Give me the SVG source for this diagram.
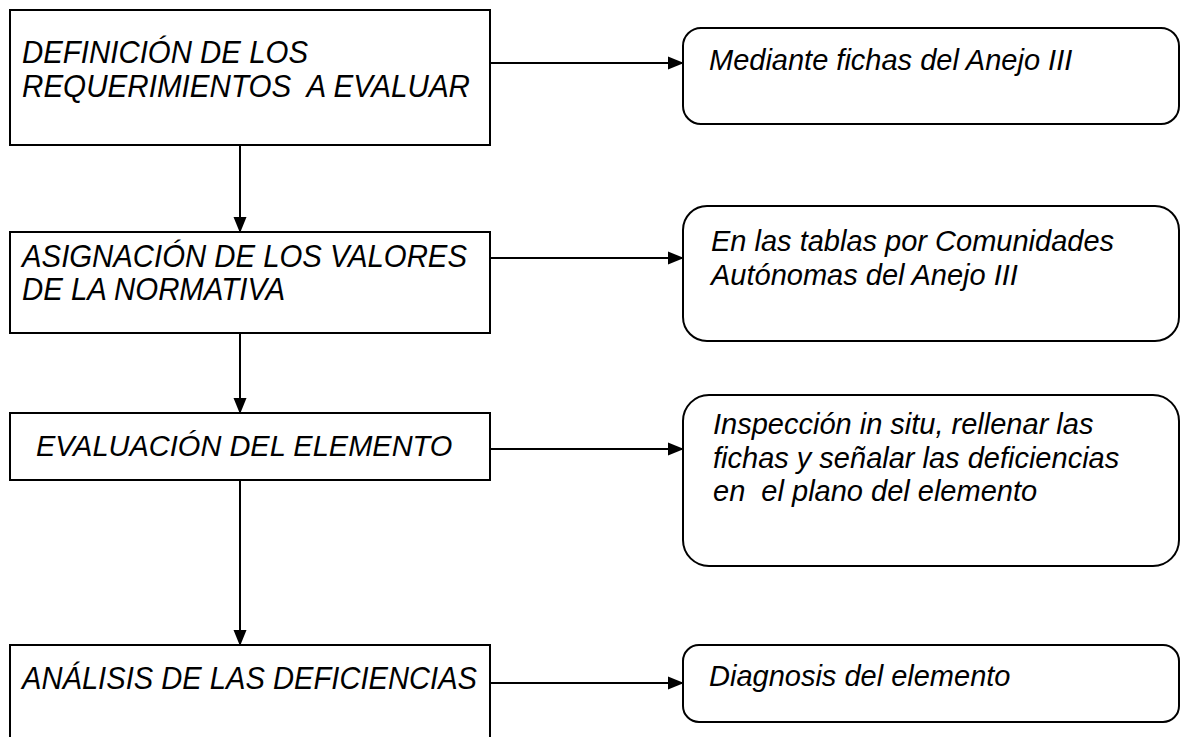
<svg xmlns="http://www.w3.org/2000/svg" width="1181" height="737" viewBox="0 0 1181 737">
<style>
.box{fill:#fff;stroke:#000;stroke-width:2}
.rbox{fill:#fff;stroke:#000;stroke-width:2}
.t{font-family:"Liberation Sans",Arial,sans-serif;font-style:italic;font-size:29px;fill:#000}
.tc{font-family:"Liberation Sans",Arial,sans-serif;font-style:italic;font-size:32px;fill:#000}
.c{stroke:#000;stroke-width:2;fill:none;marker-end:url(#ah)}
</style>
<defs>
<marker id="ah" markerWidth="16" markerHeight="14" refX="15" refY="7" orient="auto" markerUnits="userSpaceOnUse">
<path d="M0,0.5 L16,7 L0,13.5 Z" fill="#000"/>
</marker>
</defs>
<g id="connectors">
<line class="c" x1="490" y1="63" x2="683" y2="63"/>
<line class="c" x1="490" y1="258" x2="683" y2="258"/>
<line class="c" x1="490" y1="449" x2="683" y2="449"/>
<line class="c" x1="490" y1="683" x2="683" y2="683"/>
<line class="c" x1="240" y1="145" x2="240" y2="232"/>
<line class="c" x1="240" y1="333" x2="240" y2="413"/>
<line class="c" x1="240" y1="480" x2="240" y2="645"/>
</g>
<g id="n1">
<rect class="box" x="10" y="10" width="480" height="135"/>
<text class="tc" x="22" y="63" textLength="286" lengthAdjust="spacingAndGlyphs">DEFINICIÓN DE LOS</text>
<text class="tc" x="22" y="97" textLength="448" lengthAdjust="spacingAndGlyphs" xml:space="preserve">REQUERIMIENTOS  A EVALUAR</text>
</g>
<g id="n2">
<rect class="box" x="10" y="232" width="480" height="101"/>
<text class="tc" x="22" y="267" textLength="445" lengthAdjust="spacingAndGlyphs">ASIGNACIÓN DE LOS VALORES</text>
<text class="tc" x="22" y="300" textLength="263" lengthAdjust="spacingAndGlyphs">DE LA NORMATIVA</text>
</g>
<g id="n3">
<rect class="box" x="10" y="413" width="480" height="67"/>
<text class="t" x="36" y="456">EVALUACIÓN DEL ELEMENTO</text>
</g>
<g id="n4">
<rect class="box" x="10" y="645" width="480" height="100"/>
<text class="tc" x="22" y="689" textLength="455" lengthAdjust="spacingAndGlyphs">ANÁLISIS DE LAS DEFICIENCIAS</text>
</g>
<g id="r1">
<rect class="rbox" x="683" y="28" width="496" height="96" rx="18"/>
<text class="t" x="709" y="70">Mediante fichas del Anejo III</text>
</g>
<g id="r2">
<rect class="rbox" x="683" y="206" width="496" height="135" rx="24"/>
<text class="t" x="711" y="251">En las tablas por Comunidades</text>
<text class="t" x="711" y="285">Autónomas del Anejo III</text>
</g>
<g id="r3">
<rect class="rbox" x="683" y="395" width="496" height="171" rx="26"/>
<text class="t" x="713" y="434">Inspección in situ, rellenar las</text>
<text class="t" x="713" y="468">fichas y señalar las deficiencias</text>
<text class="t" x="713" y="501" xml:space="preserve">en  el plano del elemento</text>
</g>
<g id="r4">
<rect class="rbox" x="683" y="645" width="496" height="77" rx="16"/>
<text class="t" x="709" y="686">Diagnosis del elemento</text>
</g>
</svg>
